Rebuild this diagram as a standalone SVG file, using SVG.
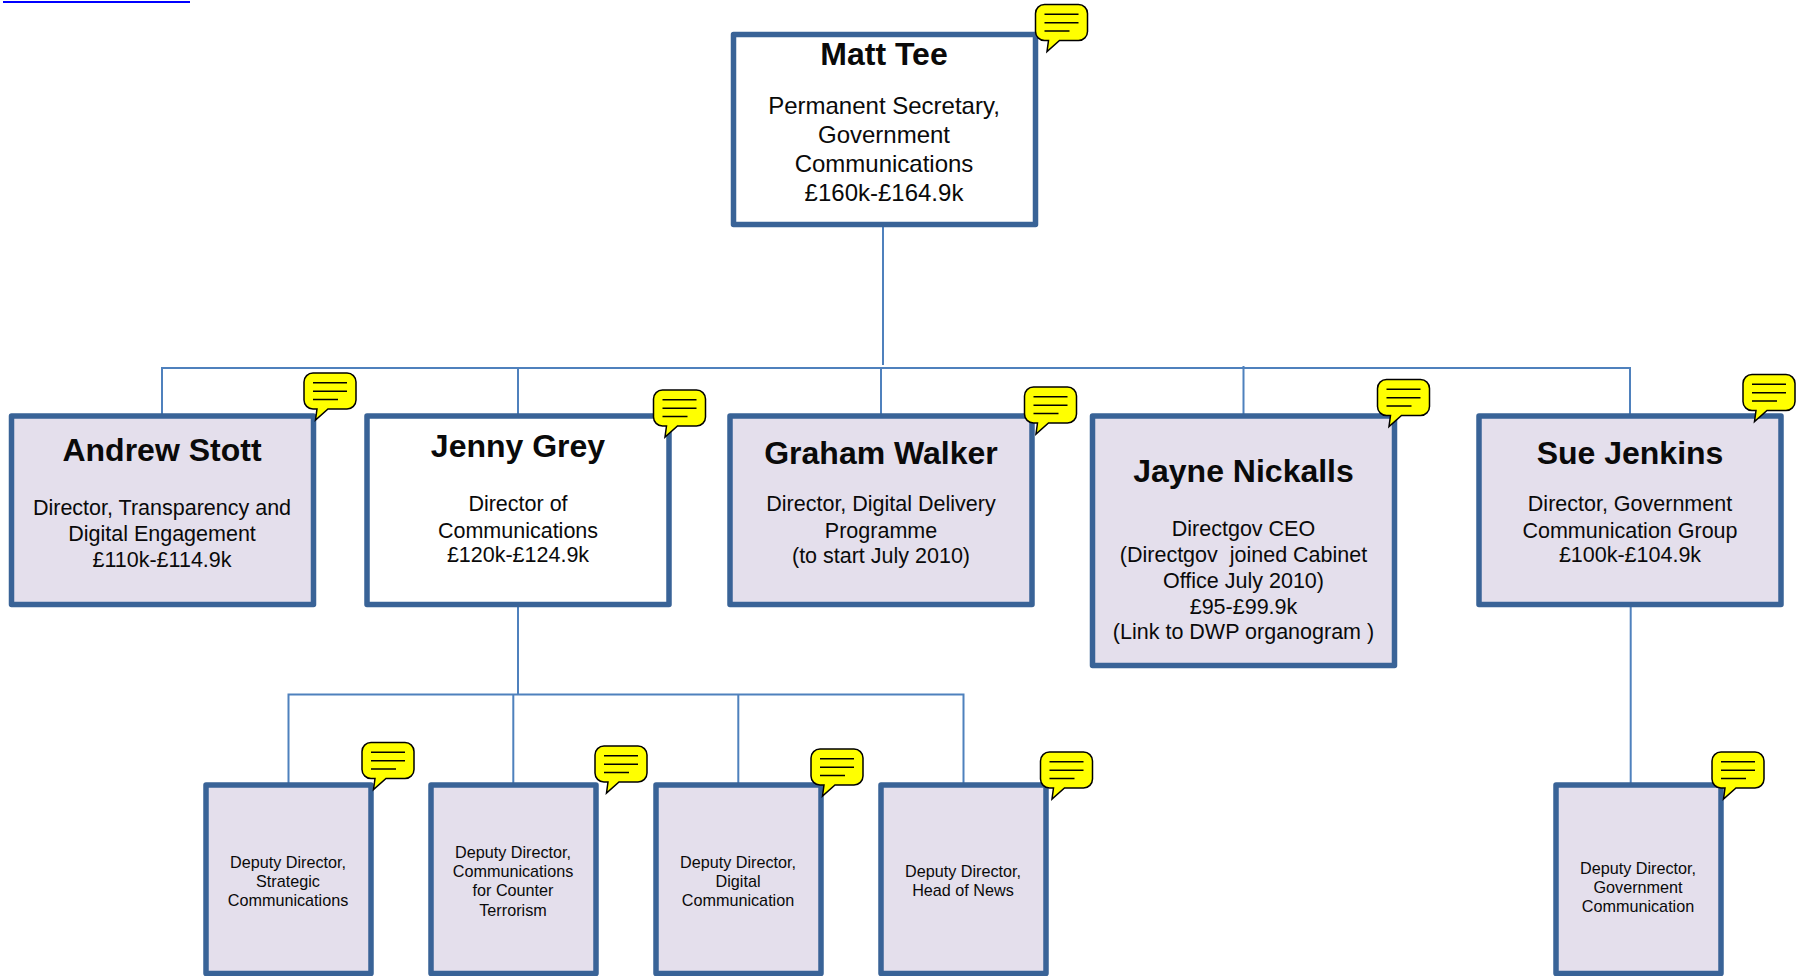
<svg xmlns="http://www.w3.org/2000/svg" width="1802" height="976" viewBox="0 0 1802 976">
<style>
text{font-family:"Liberation Sans",Arial,sans-serif;fill:#0a0a0a;text-anchor:middle}
.n{font-size:32px;font-weight:bold}
.b{font-size:21.500px}
.t{font-size:24px}
.d{font-size:16.200px}
.box{fill:#e4dfec;stroke:#396397;stroke-width:5.500;stroke-linejoin:round}
.w{fill:#fff}
.c{fill:none;stroke:#4f81bd;stroke-width:2}
.bub{fill:#ff0;stroke:#000;stroke-width:1.500}
.bl{stroke:#000;stroke-width:1.500;fill:none}
</style>
<defs>
<g id="note">
<path class="bub" d="M9 0H43A9 9 0 0 1 52 9V27A9 9 0 0 1 43 36H24L11.500 47L13 36H9A9 9 0 0 1 0 27V9A9 9 0 0 1 9 0Z"/>
<path class="bl" d="M9 9.800H43M9 18.200H43M9 26.500H34"/>
</g>
</defs>
<rect id="link-bar" x="3" y="1" width="187" height="2" fill="#00f"/>
<g id="connectors">
<path class="c" d="M883 227V365"/>
<path class="c" d="M162 414V368H1630V414"/>
<path class="c" d="M518 368V414M881 368V414M1243.500 366V414"/>
<path class="c" d="M518 607V695"/>
<path class="c" d="M288.500 783V694.500H963.500V783M513.300 694.500V783M738.300 694.500V783"/>
<path class="c" d="M1630.700 607V783"/>
</g>
<g id="matt-tee">
<rect class="box w" x="733.500" y="34.500" width="302" height="190"/>
<use href="#note" x="1035.500" y="4.500"/>
<text class="n" x="884" y="64.500">Matt Tee</text>
<text class="t" x="884" y="114">Permanent Secretary,</text>
<text class="t" x="884" y="143">Government</text>
<text class="t" x="884" y="172">Communications</text>
<text class="t" x="884" y="201">£160k-£164.9k</text>
</g>
<g id="andrew-stott">
<rect class="box" x="11.500" y="416" width="302" height="188.500"/>
<use href="#note" x="304" y="373"/>
<text class="n" x="162" y="460.500">Andrew Stott</text>
<text class="b" x="162" y="514.500">Director, Transparency and</text>
<text class="b" x="162" y="540.500">Digital Engagement</text>
<text class="b" x="162" y="566.500">£110k-£114.9k</text>
</g>
<g id="jenny-grey">
<rect class="box w" x="367" y="416" width="302" height="188.500"/>
<use href="#note" x="653.500" y="390"/>
<text class="n" x="518" y="456.500">Jenny Grey</text>
<text class="b" x="518" y="511">Director of</text>
<text class="b" x="518" y="537.500">Communications</text>
<text class="b" x="518" y="562">£120k-£124.9k</text>
</g>
<g id="graham-walker">
<rect class="box" x="730" y="416" width="302" height="188.500"/>
<use href="#note" x="1024.500" y="387"/>
<text class="n" x="881" y="464">Graham Walker</text>
<text class="b" x="881" y="511">Director, Digital Delivery</text>
<text class="b" x="881" y="537.500">Programme</text>
<text class="b" x="881" y="562.500">(to start July 2010)</text>
</g>
<g id="jayne-nickalls">
<rect class="box" x="1092.500" y="416" width="302" height="249.500"/>
<use href="#note" x="1377.500" y="379.500"/>
<text class="n" x="1243.500" y="481.500">Jayne Nickalls</text>
<text class="b" x="1243.500" y="536">Directgov CEO</text>
<text class="b" x="1243.500" y="562" xml:space="preserve">(Directgov  joined Cabinet</text>
<text class="b" x="1243.500" y="587.500">Office July 2010)</text>
<text class="b" x="1243.500" y="613.500">£95-£99.9k</text>
<text class="b" x="1243.500" y="638.500" xml:space="preserve">(Link to DWP organogram )</text>
</g>
<g id="sue-jenkins">
<rect class="box" x="1479" y="416" width="302" height="188.500"/>
<use href="#note" x="1743" y="374.500"/>
<text class="n" x="1630" y="464">Sue Jenkins</text>
<text class="b" x="1630" y="511">Director, Government</text>
<text class="b" x="1630" y="537.500">Communication Group</text>
<text class="b" x="1630" y="562">£100k-£104.9k</text>
</g>
<g id="deputy-strategic">
<rect class="box" x="206" y="785" width="165" height="188.500"/>
<use href="#note" x="362" y="742.500"/>
<text class="d" x="288" y="868">Deputy Director,</text>
<text class="d" x="288" y="887">Strategic</text>
<text class="d" x="288" y="906">Communications</text>
</g>
<g id="deputy-counter-terrorism">
<rect class="box" x="431" y="785" width="165" height="188.500"/>
<use href="#note" x="595" y="746"/>
<text class="d" x="513" y="858">Deputy Director,</text>
<text class="d" x="513" y="877">Communications</text>
<text class="d" x="513" y="896">for Counter</text>
<text class="d" x="513" y="915.500">Terrorism</text>
</g>
<g id="deputy-digital">
<rect class="box" x="656" y="785" width="165" height="188.500"/>
<use href="#note" x="811" y="749"/>
<text class="d" x="738" y="868">Deputy Director,</text>
<text class="d" x="738" y="887">Digital</text>
<text class="d" x="738" y="906">Communication</text>
</g>
<g id="deputy-news">
<rect class="box" x="881" y="785" width="165" height="188.500"/>
<use href="#note" x="1040.500" y="752"/>
<text class="d" x="963" y="877">Deputy Director,</text>
<text class="d" x="963" y="896">Head of News</text>
</g>
<g id="deputy-government">
<rect class="box" x="1556" y="785" width="165" height="188.500"/>
<use href="#note" x="1712" y="752"/>
<text class="d" x="1638" y="874">Deputy Director,</text>
<text class="d" x="1638" y="893">Government</text>
<text class="d" x="1638" y="912">Communication</text>
</g>
</svg>
